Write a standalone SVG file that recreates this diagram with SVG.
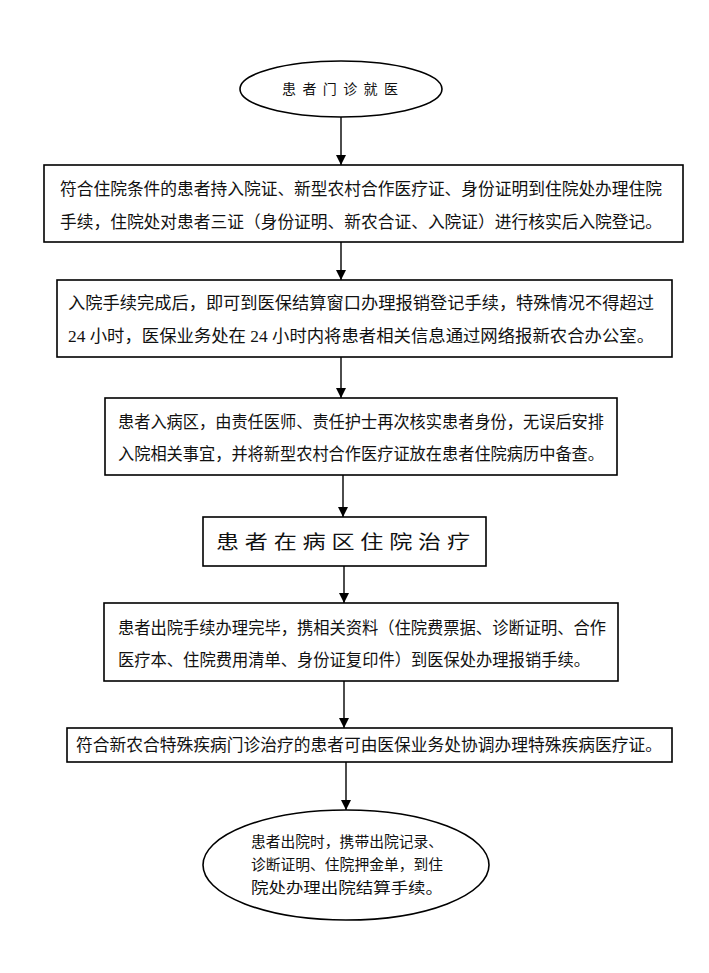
<svg xmlns="http://www.w3.org/2000/svg" width="709" height="973" viewBox="0 0 709 973">
<defs>
<marker id="ah" viewBox="0 0 10 10" refX="10" refY="5" markerWidth="10" markerHeight="10" markerUnits="userSpaceOnUse" orient="auto">
<path d="M0,0 L10,5 L0,10 z" fill="#000"/>
</marker>
<style>
.shape{fill:#fff;stroke:#000;stroke-width:1.6}
.t{font-family:"Liberation Serif","Noto Sans CJK SC",serif;font-size:16.5px;fill:#111}
.conn{stroke:#000;stroke-width:1.4;fill:none}
</style>
</defs>
<rect width="709" height="973" fill="#fff"/>
<g id="connectors">
<line class="conn" x1="341" y1="117" x2="341" y2="165" marker-end="url(#ah)"/>
<line class="conn" x1="341" y1="242" x2="341" y2="280" marker-end="url(#ah)"/>
<line class="conn" x1="341" y1="357" x2="341" y2="398" marker-end="url(#ah)"/>
<line class="conn" x1="343" y1="475" x2="343" y2="517" marker-end="url(#ah)"/>
<line class="conn" x1="344" y1="566" x2="344" y2="603" marker-end="url(#ah)"/>
<line class="conn" x1="344" y1="681" x2="344" y2="728" marker-end="url(#ah)"/>
<line class="conn" x1="346" y1="762" x2="346" y2="810" marker-end="url(#ah)"/>
</g>
<g id="n1">
<ellipse class="shape" cx="341" cy="89" rx="101" ry="28"/>
<text class="t" x="282" y="94" style="font-size:14px" textLength="116" lengthAdjust="spacing">患 者 门 诊 就 医</text>
</g>
<g id="n2">
<rect class="shape" x="44" y="165" width="639" height="77"/>
<text class="t" x="60" y="195" textLength="602" lengthAdjust="spacingAndGlyphs">符合住院条件的患者持入院证、新型农村合作医疗证、身份证明到住院处办理住院</text>
<text class="t" x="60" y="228" textLength="602" lengthAdjust="spacingAndGlyphs">手续，住院处对患者三证（身份证明、新农合证、入院证）进行核实后入院登记。</text>
</g>
<g id="n3">
<rect class="shape" x="57" y="280" width="615" height="77"/>
<text class="t" x="68" y="309" textLength="586" lengthAdjust="spacingAndGlyphs">入院手续完成后，即可到医保结算窗口办理报销登记手续，特殊情况不得超过</text>
<text class="t" x="68" y="342" textLength="586" lengthAdjust="spacingAndGlyphs">24 小时，医保业务处在 24 小时内将患者相关信息通过网络报新农合办公室。</text>
</g>
<g id="n4">
<rect class="shape" x="105" y="398" width="512" height="77"/>
<text class="t" x="118" y="428" textLength="486" lengthAdjust="spacingAndGlyphs">患者入病区，由责任医师、责任护士再次核实患者身份，无误后安排</text>
<text class="t" x="118" y="460" textLength="486" lengthAdjust="spacingAndGlyphs">入院相关事宜，并将新型农村合作医疗证放在患者住院病历中备查。</text>
</g>
<g id="n5">
<rect class="shape" x="203" y="517" width="283" height="49"/>
<text class="t" x="216" y="549" style="font-size:19px" textLength="254" lengthAdjust="spacingAndGlyphs">患 者 在 病 区 住 院 治 疗</text>
</g>
<g id="n6">
<rect class="shape" x="104" y="603" width="514" height="78"/>
<text class="t" x="118" y="634" textLength="488" lengthAdjust="spacingAndGlyphs">患者出院手续办理完毕，携相关资料（住院费票据、诊断证明、合作</text>
<text class="t" x="118" y="666" textLength="472" lengthAdjust="spacingAndGlyphs">医疗本、住院费用清单、身份证复印件）到医保处办理报销手续。</text>
</g>
<g id="n7">
<rect class="shape" x="67" y="728" width="605" height="34"/>
<text class="t" x="76" y="751" textLength="586" lengthAdjust="spacingAndGlyphs">符合新农合特殊疾病门诊治疗的患者可由医保业务处协调办理特殊疾病医疗证。</text>
</g>
<g id="n8">
<ellipse class="shape" cx="346" cy="865" rx="143" ry="55"/>
<text class="t" x="251" y="847" style="font-size:14.5px" textLength="192" lengthAdjust="spacingAndGlyphs">患者出院时，携带出院记录、</text>
<text class="t" x="251" y="870" style="font-size:14.5px" textLength="192" lengthAdjust="spacingAndGlyphs">诊断证明、住院押金单，到住</text>
<text class="t" x="251" y="893" style="font-size:14.5px" textLength="192" lengthAdjust="spacingAndGlyphs">院处办理出院结算手续。</text>
</g>
</svg>
